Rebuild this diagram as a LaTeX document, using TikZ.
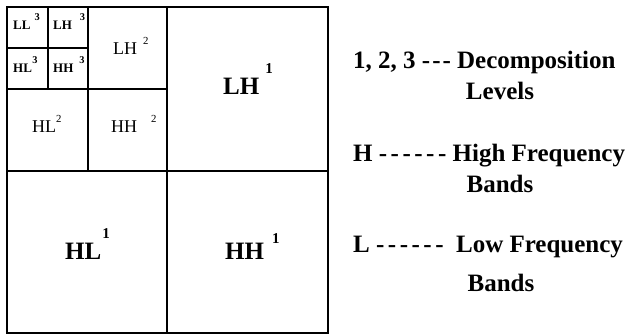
\documentclass[tikz,border=0pt]{standalone}
\usepackage{fontspec}
\setmainfont{Liberation Serif}
\usetikzlibrary{positioning}

\newcommand{\bandlab}[5][0.6]{#2\kern#4\raisebox{#5}{\scalebox{#1}{#3}}}
\newcommand{\dashrow}[2]{\foreach \i in {1,...,#1}{\ifnum\i>1\kern#2\fi-}}

\begin{document}
\begin{tikzpicture}[
    x=1pt, y=-1pt,
    grid/.style={line width=1.6pt},
    lab/.style={inner sep=0pt, anchor=base west},
    lvlone/.style={lab, font=\fontsize{25}{25}\selectfont\bfseries},
    lvltwo/.style={lab, font=\fontsize{18}{18}\selectfont},
    lvlthree/.style={lab, font=\fontsize{13}{13}\selectfont\bfseries},
    legend/.style={inner sep=0pt, font=\fontsize{25}{25}\selectfont\bfseries}
]
    \useasboundingbox (0,0) rectangle (629,334);
    % subband grid
    \draw[grid] (7,7) rectangle (328,333);
    \draw[grid] (167,7) -- (167,333) (7,171) -- (328,171);
    \draw[grid] (88,7) -- (88,171) (7,89) -- (167,89);
    \draw[grid] (48,7) -- (48,89) (7,48) -- (88,48);

    \node[lvlthree] (ll3) at (13,30) {\bandlab[0.8]{LL}{3}{4pt}{9pt}};
    \node[lvlthree] (lh3) at (53,30) {\bandlab[0.8]{LH}{3}{8pt}{9pt}};
    \node[lvlthree] (hl3) at (13,73) {\bandlab[0.8]{HL}{3}{0.5pt}{9pt}};
    \node[lvlthree] (hh3) at (53,73) {\bandlab[0.8]{HH}{3}{6pt}{9pt}};

    \node[lvltwo] (lh2) at (113,55) {\bandlab{LH}{2}{6pt}{10pt}};
    \node[lvltwo] (hl2) at (32,132) {\bandlab{HL}{2}{0pt}{10pt}};
    \node[lvltwo] (hh2) at (111,133) {\bandlab{HH}{2}{14pt}{10pt}};

    \node[lvlone] (lh1) at (223,95) {\bandlab{LH}{1}{6pt}{21pt}};
    \node[lvlone] (hl1) at (65,259) {\bandlab{HL}{1}{1pt}{21pt}};
    \node[lvlone] (hh1) at (225,259) {\bandlab{HH}{1}{8pt}{16pt}};

    % legend
    \node[legend, anchor=base west] (dec) at (353,69) {1, 2, 3 \dashrow{3}{2pt} Decomposition};
    \node[legend, anchor=base] (lev) at (500,100) {Levels};
    \node[legend, anchor=base west] (high) at (353,161) {H \dashrow{6}{3.5pt} High Frequency};
    \node[legend, anchor=base] (hb) at (500,192) {Bands};
    \node[legend, anchor=base west] (low) at (353,252) {L \dashrow{6}{3.5pt}\ \ Low Frequency};
    \node[legend, anchor=base] (lb) at (501,291) {Bands};
\end{tikzpicture}
\end{document}
